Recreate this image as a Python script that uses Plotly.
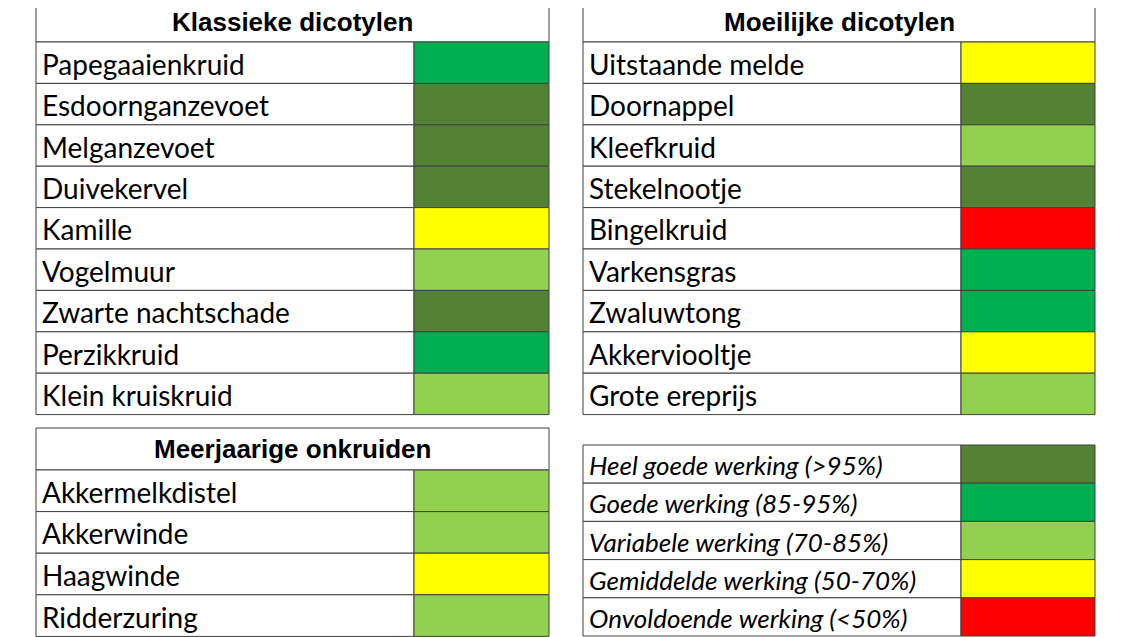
import plotly.graph_objects as go

C = {"hg": "#548235", "g": "#00B050", "v": "#92D050", "gem": "#FFFF00", "o": "#FF0000"}

klassiek_title = "Klassieke dicotylen"
klassiek_names = ["Papegaaienkruid", "Esdoornganzevoet", "Melganzevoet", "Duivekervel", "Kamille",
                  "Vogelmuur", "Zwarte nachtschade", "Perzikkruid", "Klein kruiskruid"]
klassiek_rating = ["g", "hg", "hg", "hg", "gem", "v", "hg", "g", "v"]

moeilijk_title = "Moeilijke dicotylen"
moeilijk_names = ["Uitstaande melde", "Doornappel", "Kleefkruid", "Stekelnootje", "Bingelkruid",
                  "Varkensgras", "Zwaluwtong", "Akkerviooltje", "Grote ereprijs"]
moeilijk_rating = ["gem", "hg", "v", "hg", "o", "g", "g", "gem", "v"]

meerjarig_title = "Meerjaarige onkruiden"
meerjarig_names = ["Akkermelkdistel", "Akkerwinde", "Haagwinde", "Ridderzuring"]
meerjarig_rating = ["v", "v", "gem", "v"]

legend_labels = ["Heel goede werking (>95%)", "Goede werking (85-95%)", "Variabele werking (70-85%)",
                 "Gemiddelde werking (50-70%)", "Onvoldoende werking (<50%)"]
legend_rating = ["hg", "g", "v", "gem", "o"]

fig = go.Figure()
shapes, annos = [], []
LINE = dict(color="#404040", width=1)

def table(x0, x1, xc, y0, hh, rh, title, names, ratings, italic=False, fs=28):
    if title:
        shapes.append(dict(type="rect", x0=x0, x1=x1, y0=y0, y1=y0 + hh, line=LINE, fillcolor="white"))
        annos.append(dict(x=(x0 + x1) / 2, y=y0 + hh / 2, text="<b>" + title + "</b>", showarrow=False,
                          font=dict(family="Liberation Sans", size=26, color="black"),
                          xanchor="center", yanchor="middle"))
    top = y0 + hh
    for i, (n, r) in enumerate(zip(names, ratings)):
        a, b = top + i * rh, top + (i + 1) * rh
        shapes.append(dict(type="rect", x0=x0, x1=xc, y0=a, y1=b, line=LINE, fillcolor="white"))
        shapes.append(dict(type="rect", x0=xc, x1=x1, y0=a, y1=b, line=LINE, fillcolor=C[r]))
        annos.append(dict(x=x0 + 4, y=(a + b) / 2 + 1, text=("<i>" + n + "</i>") if italic else n,
                          showarrow=False, font=dict(family="Lato", size=fs, color="black"),
                          xanchor="left", yanchor="middle"))

table(36, 549, 414, 1, 41, 41.4, klassiek_title, klassiek_names, klassiek_rating)
table(583, 1095, 961, 1, 41, 41.4, moeilijk_title, moeilijk_names, moeilijk_rating)
table(36, 549, 414, 428, 42, 41.6, meerjarig_title, meerjarig_names, meerjarig_rating)
table(583, 1095, 961, 445, 0, 38.2, None, legend_labels, legend_rating, italic=True, fs=26)

fig.update_layout(width=1132, height=637, margin=dict(l=0, r=0, t=0, b=0),
                  plot_bgcolor="white", paper_bgcolor="white", shapes=shapes, annotations=annos,
                  xaxis=dict(range=[8, 1140], visible=False, fixedrange=True),
                  yaxis=dict(range=[645, 8], visible=False, fixedrange=True),
                  showlegend=False)
fig.write_html("out.html")
